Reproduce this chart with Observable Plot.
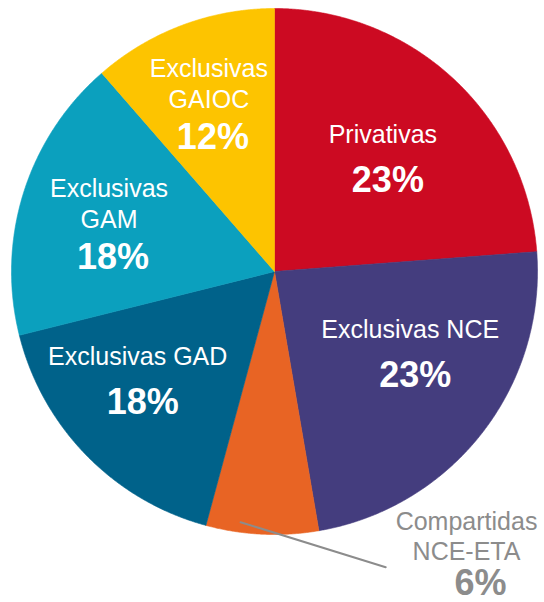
<!DOCTYPE html>
<html><head><meta charset="utf-8">
<script src="https://cdn.jsdelivr.net/npm/d3@7"></script>
<script src="https://cdn.jsdelivr.net/npm/@observablehq/plot@0.6"></script>
<style>html,body{margin:0;padding:0;background:#fff}#chart svg{display:block}</style>
</head><body><div id="chart"></div>
<script>
// ---- data ----
const categories = ["Privativas", "Exclusivas NCE", "Compartidas NCE-ETA", "Exclusivas GAD", "Exclusivas GAM", "Exclusivas GAIOC"];
const labelLines = [["Privativas"], ["Exclusivas NCE"], ["Compartidas", "NCE-ETA"], ["Exclusivas GAD"], ["Exclusivas", "GAM"], ["Exclusivas", "GAIOC"]];
const shares = [23.8, 23.5, 6.9, 16.9, 17.5, 11.4];
const percentLabels = ["23%", "23%", "6%", "18%", "18%", "12%"];

// ---- styles / layout ----
const colors = ["#CC0A22", "#443D7E", "#E86424", "#00628A", "#0BA0BE", "#FDC400"];
const W = 544, H = 602, CX = 274, CY = 271, R = 263;
const outside = [false, false, true, false, false, false];
// label block centre: [angle in degrees clockwise from 12 o'clock, distance from centre in px]
const labelPolar = [[44, 156], [121.4, 159], [145.5, 339], [231.4, 175], [285.8, 172], [338.5, 179]];
const leaderPolar = [[187.7, 253], [159.4, 316]];
const font = "'Liberation Sans', Arial, Helvetica, sans-serif";
const grey = "#8C8C8C";

const rad = (deg) => deg * Math.PI / 180;
const polar = ([a, r]) => ({x: r * Math.sin(rad(a)), y: -r * Math.cos(rad(a))});

// slices from d3.pie (angles clockwise from top)
const table = categories.map((c, i) => ({key: c, value: shares[i]}));
const arcs = d3.pie().sort(null).value(d => d.value)(table);
const slicePts = [];
for (const a of arcs) {
  const k = a.data.key;
  slicePts.push({key: k, x: 0, y: 0});
  const n = Math.max(2, Math.ceil((a.endAngle - a.startAngle) / rad(0.25)));
  for (let j = 0; j <= n; j++) {
    const t = a.startAngle + (a.endAngle - a.startAngle) * j / n;
    slicePts.push({key: k, x: R * Math.sin(t), y: -R * Math.cos(t)});
  }
  slicePts.push({key: k, x: 0, y: 0});
}

// labels
const catRows = [], pctRows = [];
categories.forEach((c, i) => {
  const p = polar(labelPolar[i]);
  const lines = labelLines[i];
  let offs, pctOff, pctDx;
  if (outside[i]) { offs = [-21, 9]; pctOff = 44; pctDx = 14; }
  else if (lines.length === 1) { offs = [-16]; pctOff = 33; pctDx = 5; }
  else { offs = [-27.5, 3]; pctOff = 44.5; pctDx = 4; }
  lines.forEach((t, j) => catRows.push({x: p.x, y: p.y + offs[j], text: t, out: outside[i]}));
  pctRows.push({x: p.x + pctDx, y: p.y + pctOff, text: percentLabels[i], out: outside[i]});
});
const leader = leaderPolar.map(polar);

const chart = Plot.plot({
  width: W, height: H,
  margin: 0, marginTop: 0, marginRight: 0, marginBottom: 0, marginLeft: 0,
  style: {fontFamily: font, background: "#fff"},
  x: {domain: [-CX, W - CX], range: [0, W], axis: null},
  y: {domain: [-CY, H - CY], range: [0, H], axis: null},
  color: {domain: categories, range: colors},
  marks: [
    Plot.line(slicePts, {x: "x", y: "y", z: "key", fill: "key", stroke: "key", strokeWidth: 0.6, curve: "linear"}),
    Plot.line(leader, {x: "x", y: "y", stroke: grey, strokeWidth: 2}),
    Plot.text(catRows, {x: "x", y: "y", text: "text", textAnchor: "middle", lineAnchor: "bottom",
      fontSize: 25, fill: d => d.out ? grey : "#fff"}),
    Plot.text(pctRows, {x: "x", y: "y", text: "text", textAnchor: "middle", lineAnchor: "bottom",
      fontSize: 36, fontWeight: "bold", fill: d => d.out ? grey : "#fff"})
  ]
});
document.getElementById("chart").appendChild(chart);
</script>
</body></html>
